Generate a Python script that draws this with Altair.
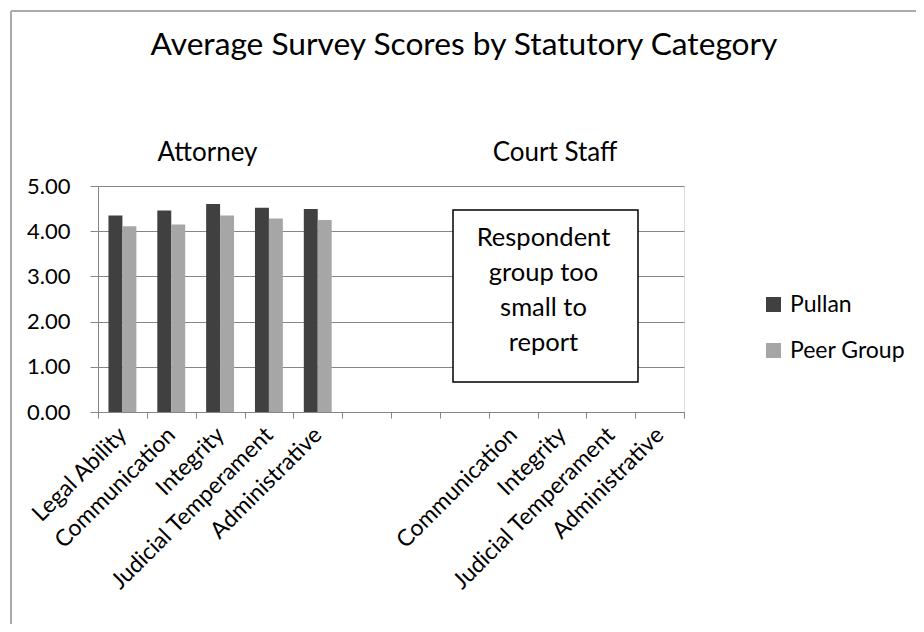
import json
import altair as alt
import pandas as pd

# ---- data ----
slot_labels = ["Legal Ability", "Communication", "Integrity", "Judicial Temperament",
               "Administrative", "", "", "", "Communication", "Integrity",
               "Judicial Temperament", "Administrative"]
attorney_slots = [0, 1, 2, 3, 4]
pullan_scores = [4.35, 4.46, 4.60, 4.52, 4.49]
peer_scores = [4.11, 4.15, 4.35, 4.28, 4.25]
series_names = ["Pullan", "Peer Group"]
series_colors = ["#404040", "#A6A6A6"]
y_ticks = [0, 1, 2, 3, 4, 5]
title_text = "Average Survey Scores by Statutory Category"
group_names = ["Attorney", "Court Staff"]
note_text = "Respondent\ngroup too\nsmall to\nreport"

FONT = "Lato"
GRID = "#868686"
W, H = 586, 226

rows = []
for s, p, q in zip(attorney_slots, pullan_scores, peer_scores):
    rows.append({"slot": s, "series": series_names[0], "score": p})
    rows.append({"slot": s, "series": series_names[1], "score": q})
bars_df = pd.DataFrame(rows)

label_expr = json.dumps(slot_labels) + "[datum.value]"

bars = alt.Chart(bars_df).mark_bar().encode(
    x=alt.X("slot:O",
            scale=alt.Scale(domain=list(range(len(slot_labels))), paddingInner=0, paddingOuter=0),
            axis=alt.Axis(title=None, labelExpr=label_expr, labelAngle=-45, labelAlign="right",
                          labelBaseline="middle", labelFontSize=23, labelFont=FONT,
                          labelColor="#000000", labelPadding=13, labelLimit=0,
                          tickBand="extent", tickSize=6, tickColor=GRID, domainColor=GRID,
                          grid=False, labelOverlap=False)),
    xOffset=alt.XOffset("series:N",
                        scale=alt.Scale(domain=series_names, paddingInner=0, paddingOuter=0.75)),
    y=alt.Y("score:Q", scale=alt.Scale(domain=[0, 5]),
            axis=alt.Axis(title=None, values=y_ticks, format=".2f", labelFontSize=22,
                          labelFont=FONT, labelColor="#000000", labelPadding=20,
                          tickSize=8, tickColor=GRID, domainColor=GRID,
                          gridColor=GRID, grid=True)),
    color=alt.Color("series:N",
                    scale=alt.Scale(domain=series_names, range=series_colors),
                    legend=alt.Legend(title=None, orient="none", legendX=664, legendY=107,
                                      symbolType="square", symbolSize=225, symbolStrokeWidth=0,
                                      labelFontSize=23, labelFont=FONT, labelColor="#000000",
                                      rowPadding=22, labelOffset=5)),
)

border = alt.Chart(pd.DataFrame({"k": [0]})).mark_rule(color="#AAAAAA", strokeWidth=2)
border_top = border.encode(x=alt.value(-87), x2=alt.value(830), y=alt.value(-175))
border_left = border.encode(x=alt.value(-87), y=alt.value(-175), y2=alt.value(460))

title = alt.Chart(pd.DataFrame({"t": [title_text]})).mark_text(
    font=FONT, fontSize=31.7, color="#000000", baseline="middle", align="center"
).encode(text="t:N", x=alt.value(366), y=alt.value(-141))

groups_df = pd.DataFrame({"g": group_names, "px": [109.5, 457]})
groups = alt.Chart(groups_df).mark_text(
    font=FONT, fontSize=26, color="#000000", baseline="middle", align="center"
).encode(text="g:N", x=alt.X("px:Q", scale=None), y=alt.value(-33))

note_box = alt.Chart(pd.DataFrame({"k": [0]})).mark_rect(
    fill="white", stroke="black", strokeWidth=1.5
).encode(x=alt.value(355), x2=alt.value(540), y=alt.value(24), y2=alt.value(196))

note = alt.Chart(pd.DataFrame({"t": [note_text]})).mark_text(
    font=FONT, fontSize=25.5, color="#000000", baseline="middle", align="center",
    lineBreak="\n", lineHeight=35
).encode(text="t:N", x=alt.value(445.5), y=alt.value(52))

chart = alt.layer(bars, border_top, border_left, title, groups, note_box, note).properties(
    width=W, height=H,
    autosize=alt.AutoSizeParams(type="none"),
    padding={"left": 90, "top": 178, "right": 232, "bottom": 212},
).configure_view(stroke=None).configure(background="white")

chart.save("out.html", embed_options={"renderer": "svg", "actions": False})
